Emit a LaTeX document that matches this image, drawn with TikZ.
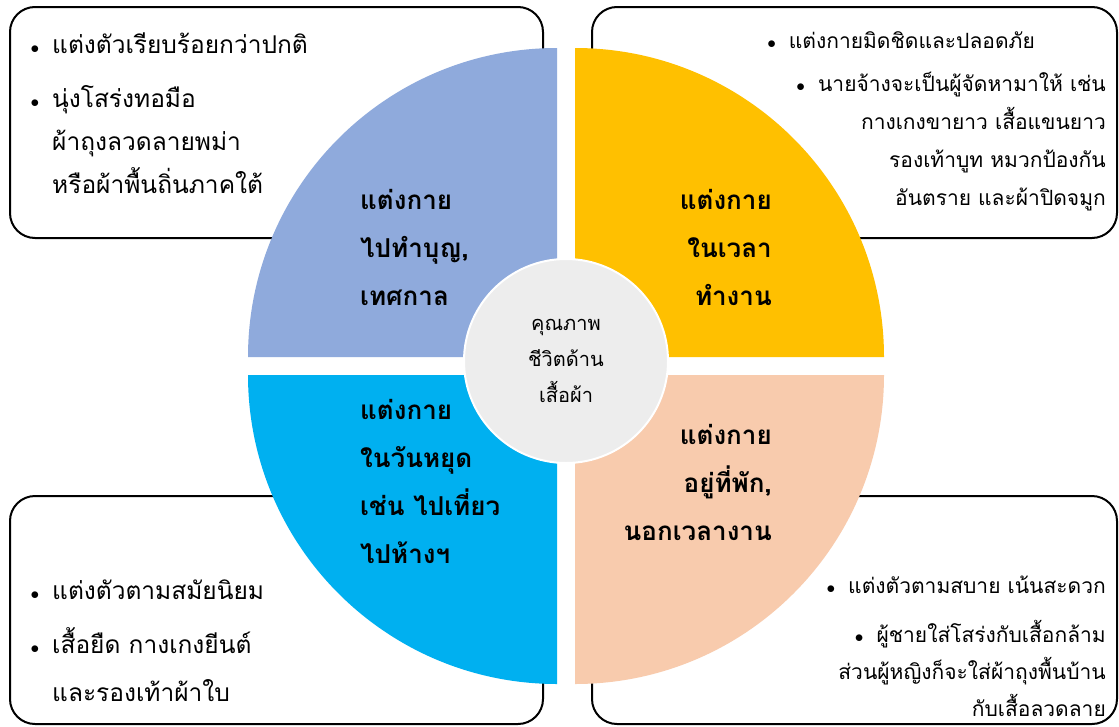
\documentclass[tikz,border=0pt]{standalone}
\usepackage{fontspec}
\newfontfamily\thaifont[Script=Thai]{Loma}
\usetikzlibrary{positioning}

\definecolor{qblue}{HTML}{8FAADC}
\definecolor{qgold}{HTML}{FFC000}
\definecolor{qcyan}{HTML}{00B0F0}
\definecolor{qpeach}{HTML}{F8CBAD}
\definecolor{qgrey}{HTML}{EDEDED}

\newcommand{\bul}{\llap{{\fontsize{18}{18}\selectfont$\bullet$}\hspace{13pt}}}
\newcommand{\rbul}{{\fontsize{18}{18}\selectfont$\bullet$}\hspace{13pt}}

\begin{document}
\begin{tikzpicture}[
    x=1pt, y=-1pt,
    panel/.style={draw=black, line width=2pt, rounded corners=25pt, fill=white},
    note/.style={inner sep=0pt, font=\thaifont\fontsize{24.5}{43}\selectfont},
    smallnote/.style={inner sep=0pt, font=\thaifont\fontsize{21}{38}\selectfont},
    quadtext/.style={inner sep=0pt, font=\thaifont\bfseries\fontsize{26}{48}\selectfont},
    hub/.style={circle, minimum size=204pt, inner sep=0pt, fill=qgrey, draw=white, line width=2pt,
        align=center, font=\thaifont\fontsize{20}{36}\selectfont}
]

\fill[white] (0,0) rectangle (1119,726);
\useasboundingbox (0,0) rectangle (1119,726);

% corner boxes
\draw[panel] (10,7) rectangle (543,238);
\draw[panel] (592,7) rectangle (1117,238);
\draw[panel] (10,496) rectangle (543,724);
\draw[panel] (592,496) rectangle (1117,724);

% quarter discs
\fill[qblue] (557,357) -- (248,357) arc[start angle=180, end angle=270, radius=309] -- cycle;
\fill[qgold] (575,357) -- (575,48) arc[start angle=270, end angle=360, radius=309] -- cycle;
\fill[qcyan] (557,375) -- (248,375) arc[start angle=180, end angle=90, radius=309] -- cycle;
\fill[qpeach] (575,375) -- (884,375) arc[start angle=0, end angle=90, radius=309] -- cycle;

\node[hub] (hub) at (566,361) {คุณภาพ\\ชีวิตด้าน\\เสื้อผ้า};

% quadrant titles
\node[quadtext, align=left, anchor=west] (temple) at (360,247) {แต่งกาย\\ไปทำบุญ,\\เทศกาล};
\node[quadtext, align=right, anchor=east] (work) at (772,247) {แต่งกาย\\ในเวลา\\ทำงาน};
\node[quadtext, align=left, anchor=west] (holiday) at (360,481) {แต่งกาย\\ในวันหยุด\\เช่น ไปเที่ยว\\ไปห้างฯ};
\node[quadtext, align=right, anchor=east] (home) at (772,482) {แต่งกาย\\อยู่ที่พัก,\\นอกเวลางาน};

% box notes
\node[note, anchor=west] (templeA) at (52,43) {\bul แต่งตัวเรียบร้อยกว่าปกติ};
\node[note, align=left, anchor=west] (templeB) at (52,140) {\bul นุ่งโสร่งทอมือ\\ผ้าถุงลวดลายพม่า\\หรือผ้าพื้นถิ่นภาคใต้};

\node[smallnote, anchor=east] (workA) at (1035,40) {\rbul แต่งกายมิดชิดและปลอดภัย};
\node[smallnote, align=right, anchor=east] (workB) at (1106,142)
    {\rbul นายจ้างจะเป็นผู้จัดหามาให้ เช่น\\กางเกงขายาว เสื้อแขนยาว\\รองเท้าบูท หมวกป้องกัน\\อันตราย และผ้าปิดจมูก};

\node[note, anchor=west] (holidayA) at (52,590) {\bul แต่งตัวตามสมัยนิยม};
\node[note, align=left, anchor=west, font=\thaifont\fontsize{24.5}{48}\selectfont] (holidayB) at (52,665)
    {\bul เสื้อยืด กางเกงยีนต์\\และรองเท้าผ้าใบ};

\node[smallnote, anchor=east] (homeA) at (1106,585) {\rbul แต่งตัวตามสบาย เน้นสะดวก};
\node[smallnote, align=right, anchor=east, font=\thaifont\fontsize{21}{37}\selectfont] (homeB) at (1106,668)
    {\rbul ผู้ชายใส่โสร่งกับเสื้อกล้าม\\ส่วนผู้หญิงก็จะใส่ผ้าถุงพื้นบ้าน\\กับเสื้อลวดลาย};

\end{tikzpicture}
\end{document}
